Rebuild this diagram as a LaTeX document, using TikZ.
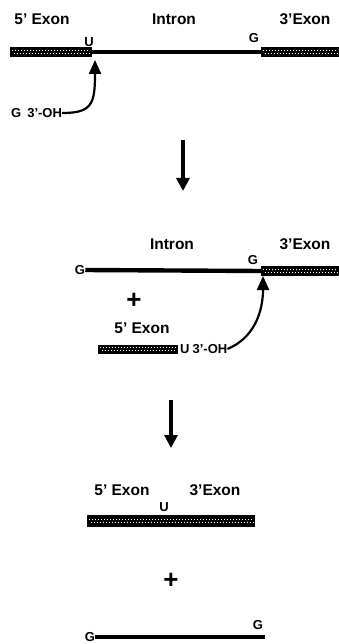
\documentclass[tikz,border=0pt]{standalone}
\usepackage{fontspec}
\setmainfont{Liberation Sans}
\usetikzlibrary{arrows.meta}

\tikzset{
    lbl/.style={font=\bfseries\fontsize{15.5}{15.5}\selectfont, inner sep=0pt},
    tag/.style={font=\bfseries\fontsize{13}{13}\selectfont, inner sep=0pt},
    plus/.style={font=\bfseries\fontsize{26}{26}\selectfont, inner sep=0pt},
    intron/.style={line width=4.4pt},
    link/.style={line width=2.2pt, -{Triangle[width=12pt,length=14pt]}},
    down/.style={line width=3.2pt, -{Triangle[width=13pt,length=13pt]}}
}

% exon box: left x, right x, centre y, half height
\newcommand{\exonbox}[4]{
    \fill[black] (#1, #3-#4) rectangle (#2, #3+#4);
    \draw[white, line width=1pt, dash pattern=on 1pt off 2pt] (#1+2, #3-1.2) -- (#2-2, #3-1.2);
    \draw[white, line width=1pt, dash pattern=on 1pt off 2pt, dash phase=1.5pt] (#1+2, #3+1.2) -- (#2-2, #3+1.2);
}

\begin{document}
\begin{tikzpicture}[x=1pt, y=-1pt]
        \useasboundingbox (0, 0) rectangle (339, 644);

        % precursor
        \node[lbl] at (42, 19)(exfive){5' Exon};
        \node[lbl] at (174, 19)(intr){Intron};
        \node[lbl] at (305, 19)(exthree){3'Exon};
        \node[tag] at (89, 42)(u){U};
        \node[tag] at (254, 38)(g){G};
        \node[tag, anchor=west] at (11, 113)(goh){G\hspace{6pt}3'-OH};

        \coordinate (jfive) at (92, 52);
        \coordinate (jthree) at (261, 52);
        \draw[intron] (jfive) to (jthree);
        \exonbox{10}{92}{52}{5}
        \exonbox{261}{339}{52}{5}

        \draw[link] (goh.east) .. controls (92, 113) and (95, 104) .. (95, 60);

        % step one
        \coordinate (sa) at (183, 140);
        \coordinate (sb) at (183, 191);
        \draw[down] (sa) to (sb);

        % intermediates
        \node[lbl] at (172, 244)(intrb){Intron};
        \node[lbl] at (305, 244)(exthreeb){3'Exon};
        \node[tag] at (80, 270)(gl){G};
        \node[tag] at (253, 260)(gb){G};
        \coordinate (jb) at (261, 271);
        \draw[intron] (gl.east) to (jb);
        \exonbox{261}{339}{271}{5}

        \node[plus] at (134, 301)(plusa){+};
        \node[lbl] at (142, 328)(exfiveb){5' Exon};
        \exonbox{98}{178}{349}{4.5}
        \node[tag, anchor=west] at (180, 349)(uoh){U\hspace{3pt}3'-OH};

        \draw[link] (uoh.east) .. controls (254, 338) and (263, 312) .. (263, 276);

        % step two
        \coordinate (ta) at (171, 400);
        \coordinate (tb) at (171, 448);
        \draw[down] (ta) to (tb);

        % products
        \node[lbl] at (122, 490)(exfivec){5' Exon};
        \node[lbl] at (215, 490)(exthreec){3'Exon};
        \node[tag] at (164, 507)(uc){U};
        \exonbox{87}{255}{521}{6}

        \node[plus] at (171, 581)(plusb){+};

        \node[tag] at (90, 637)(gc){G};
        \node[tag] at (258, 625)(gd){G};
        \coordinate (je) at (265, 637);
        \draw[intron] (gc.east) to (je);
    \end{tikzpicture}
\end{document}
